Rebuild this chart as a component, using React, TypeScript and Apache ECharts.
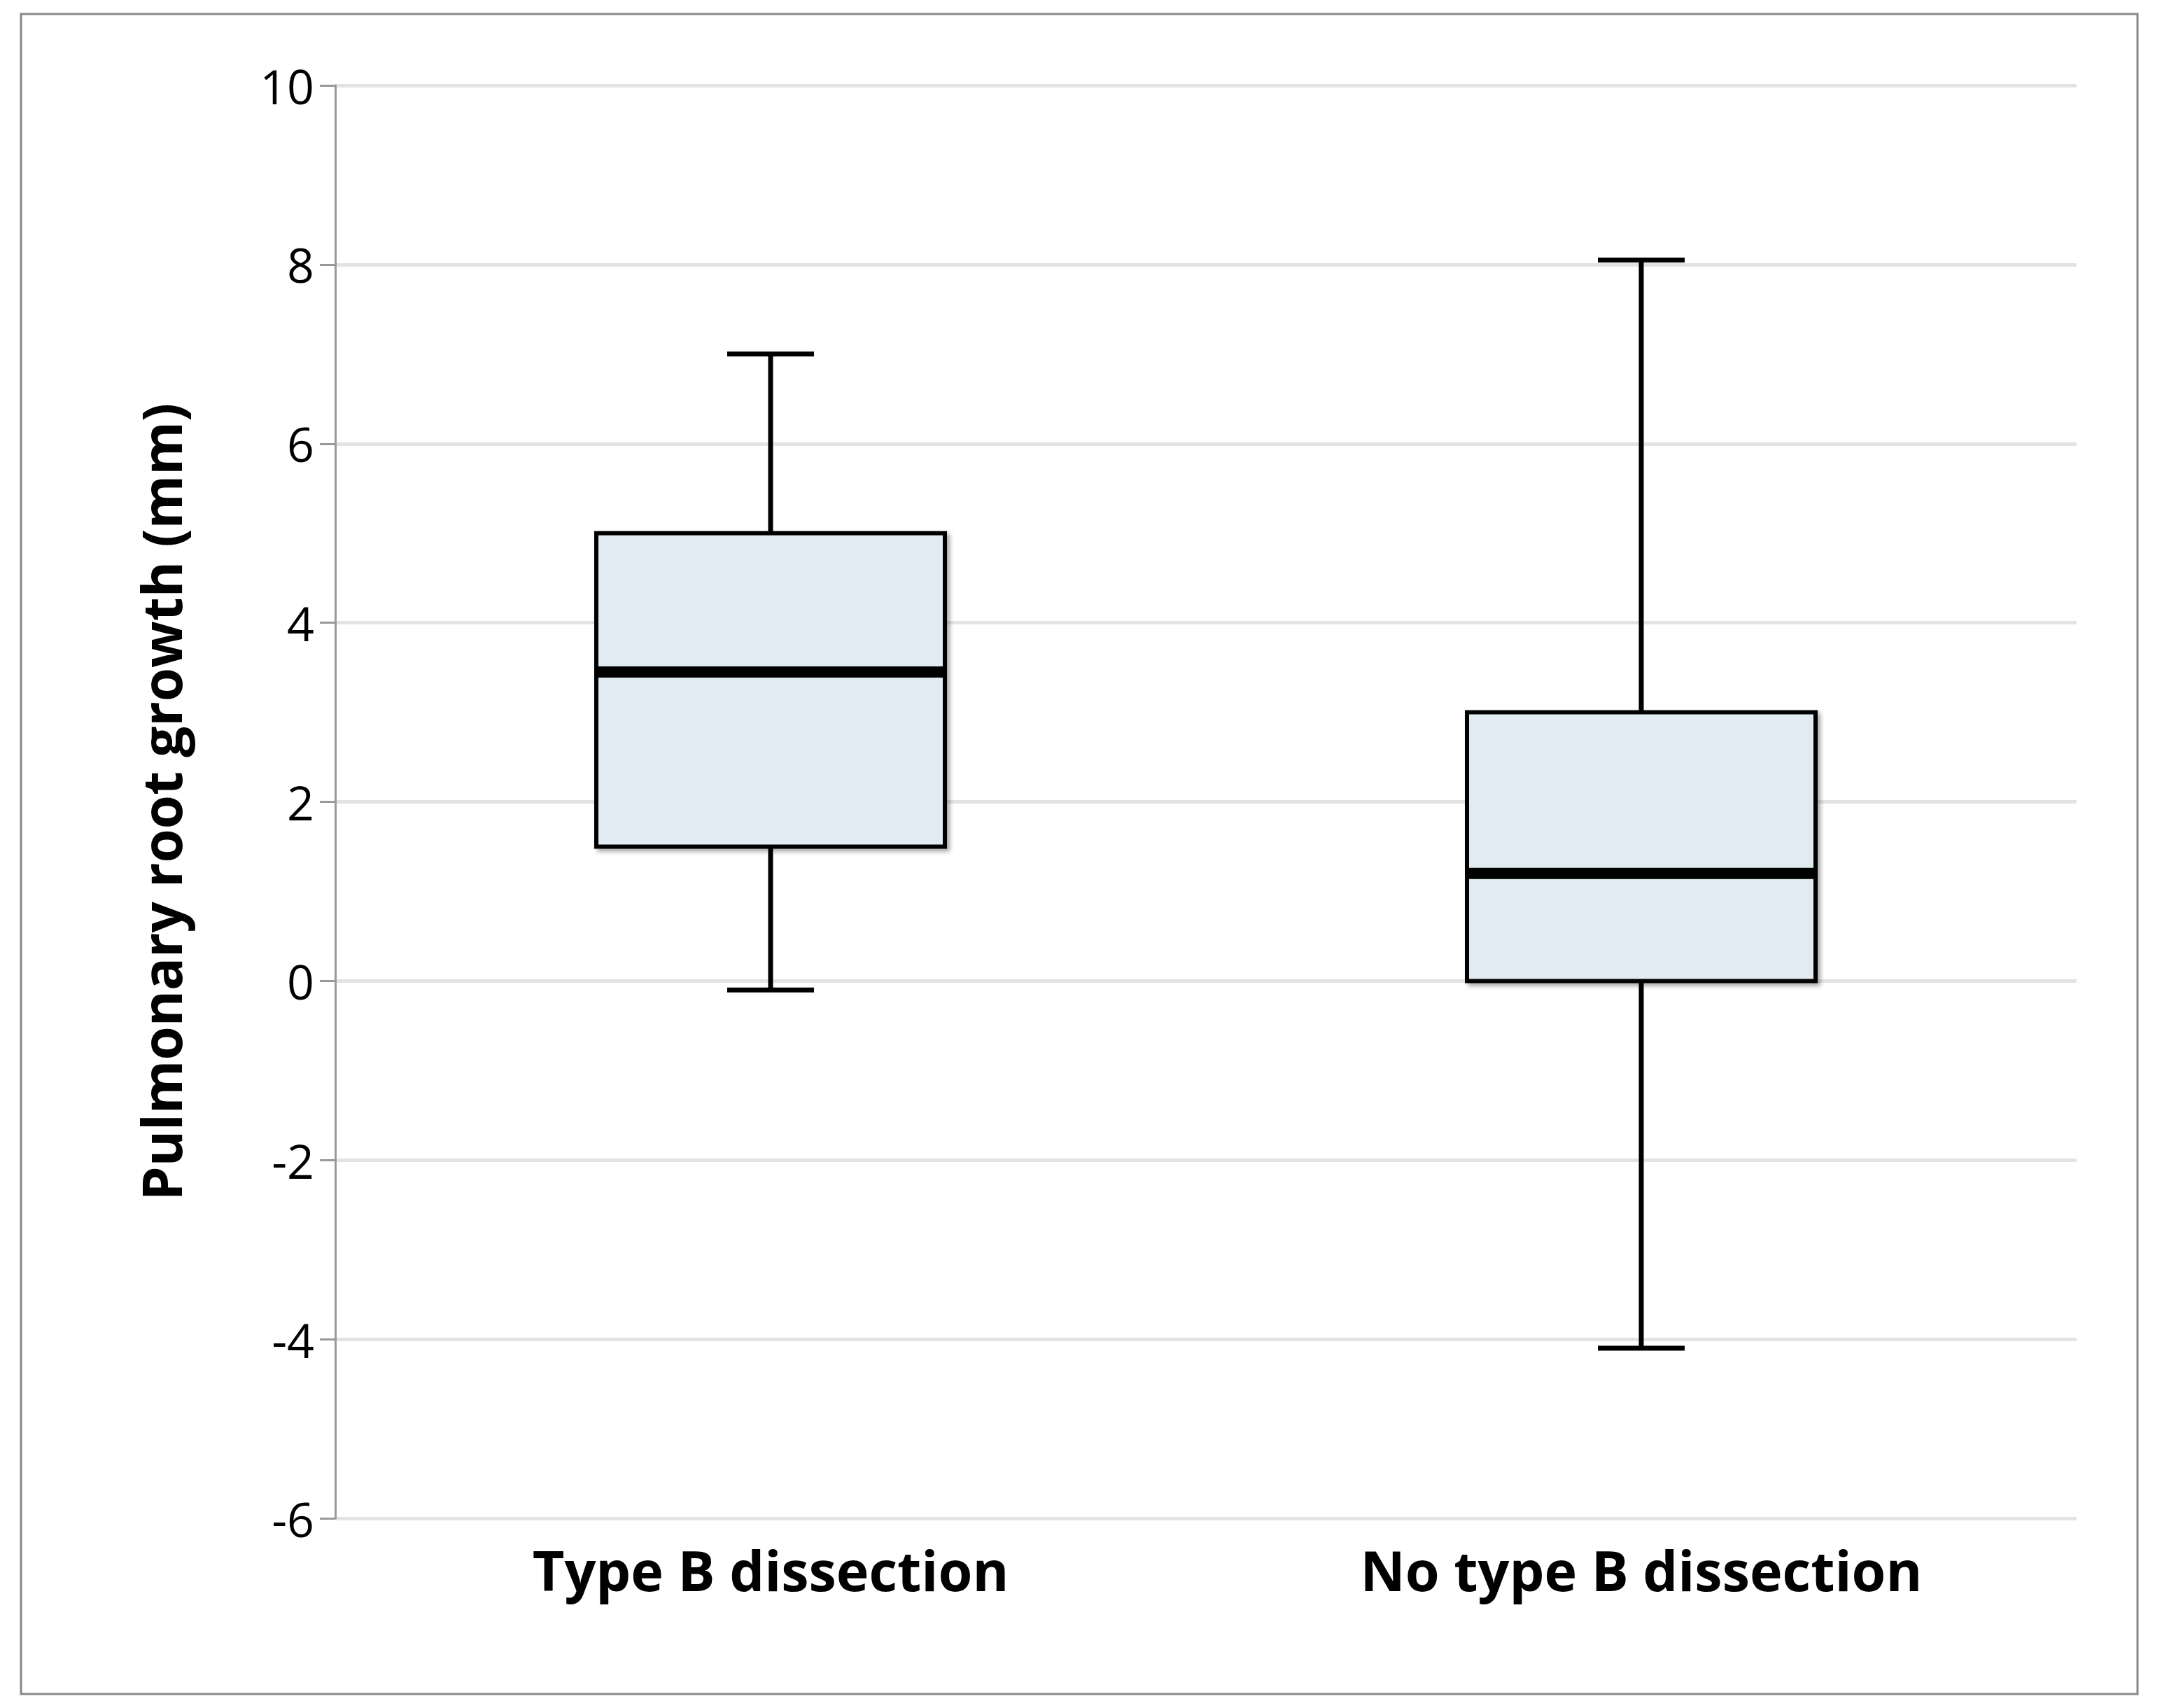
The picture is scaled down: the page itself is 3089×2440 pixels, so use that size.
import * as echarts from "echarts";
import { useEffect, useRef } from "react";

const categories = ["Type B dissection", "No type B dissection"];
// [min, Q1, median, Q3, max]
const boxValues = [
  [-0.1, 1.5, 3.45, 5.0, 7.0],
  [-4.1, 0, 1.2, 3.0, 8.05],
];
const yTicks = { min: -6, max: 10, interval: 2 };

export default () => {
  const chartRef = useRef<HTMLDivElement>(null);
  useEffect(() => {
    document.body.style.margin = "0";
    if (!chartRef.current) return;
    const chart = echarts.init(chartRef.current, undefined, { renderer: "svg" });
    chart.setOption({
      animation: false,
      backgroundColor: "#fff",
      graphic: [
        {
          type: "rect",
          shape: { x: 30, y: 20, width: 3024, height: 2400 },
          style: { fill: "none", stroke: "#888", lineWidth: 3 },
        },
      ],
      grid: { left: 479, right: 122, top: 122, bottom: 271 },
      xAxis: {
        type: "category",
        data: categories,
        axisLine: { show: false },
        axisTick: { show: false },
        axisLabel: {
          fontFamily: "Open Sans",
          fontWeight: "bold",
          fontSize: 79,
          color: "#000",
          margin: 34,
        },
      },
      yAxis: {
        type: "value",
        min: yTicks.min,
        max: yTicks.max,
        interval: yTicks.interval,
        name: "Pulmonary root growth (mm)",
        nameLocation: "middle",
        nameGap: 210,
        nameTextStyle: {
          fontFamily: "Open Sans",
          fontWeight: "bold",
          fontSize: 78,
          color: "#000",
        },
        axisLine: { show: true, lineStyle: { color: "#999", width: 3 } },
        axisTick: { show: true, length: 22, lineStyle: { color: "#999", width: 3 } },
        axisLabel: { fontFamily: "Open Sans", fontSize: 68, color: "#000", margin: 30 },
        splitLine: { lineStyle: { color: "#e3e3e3", width: 5 } },
      },
      series: [
        {
          type: "custom",
          data: boxValues.map((v, i) => [i, ...v]),
          renderItem: (params: any, api: any) => {
            const i = api.value(0);
            const [mn, q1, med, q3, mx] = [1, 2, 3, 4, 5].map((k) => api.value(k));
            const cx = api.coord([i, 0])[0];
            const y = (v: number) => api.coord([i, v])[1];
            const bw = 498;
            const cap = 124;
            const ls = { stroke: "#000", lineWidth: 7 };
            return {
              type: "group",
              children: [
                { type: "line", shape: { x1: cx, y1: y(mx), x2: cx, y2: y(q3) }, style: ls },
                { type: "line", shape: { x1: cx, y1: y(q1), x2: cx, y2: y(mn) }, style: ls },
                { type: "line", shape: { x1: cx - cap / 2, y1: y(mx), x2: cx + cap / 2, y2: y(mx) }, style: ls },
                { type: "line", shape: { x1: cx - cap / 2, y1: y(mn), x2: cx + cap / 2, y2: y(mn) }, style: ls },
                {
                  type: "rect",
                  shape: { x: cx - bw / 2, y: y(q3), width: bw, height: y(q1) - y(q3) },
                  style: { fill: "#e0ecf1", stroke: "#000", lineWidth: 6, shadowBlur: 6, shadowOffsetX: 4, shadowOffsetY: 4, shadowColor: "rgba(0,0,0,0.35)" },
                },
                { type: "line", shape: { x1: cx - bw / 2, y1: y(med), x2: cx + bw / 2, y2: y(med) }, style: { stroke: "#000", lineWidth: 16 } },
              ],
            };
          },
        },
      ],
    });
    return () => chart.dispose();
  }, []);
  return <div ref={chartRef} style={{ width: 3089, height: 2440 }}></div>;
};
